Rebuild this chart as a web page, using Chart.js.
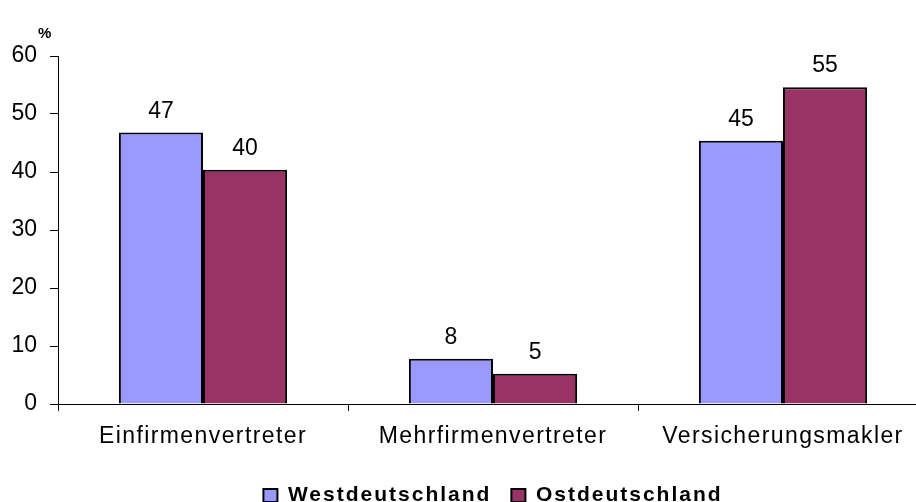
<!DOCTYPE html>
<html>
<head>
<meta charset="utf-8">
<script src="https://cdn.jsdelivr.net/npm/chart.js@4.4.1/dist/chart.umd.min.js"></script>
<style>
  html, body { margin: 0; padding: 0; background: #fff; overflow: hidden; }
  #wrap { width: 916px; height: 502px; overflow: hidden; }
</style>
</head>
<body>
<div id="wrap"><canvas id="chart" width="928" height="502"></canvas></div>
<script>
const categories = ['Einfirmenvertreter', 'Mehrfirmenvertreter', 'Versicherungsmakler'];
const seriesNames = ['Westdeutschland', 'Ostdeutschland'];
const westValues = [46.8, 7.8, 45.4];
const ostValues = [40.4, 5.2, 54.6];
const yMin = 0, yMax = 60, yStep = 10;
const unitLabel = '%';

const FONT = "'Liberation Sans', Arial, sans-serif";

// letter-spaced text, the original has wide tracking on the words
function withSpacing(fn, spacing) {
  return function () {
    const ctx = this.ctx;
    const old = ctx.letterSpacing;
    ctx.letterSpacing = spacing;
    const r = fn.apply(this, arguments);
    ctx.letterSpacing = old || '0px';
    return r;
  };
}
Chart.CategoryScale.prototype.drawLabels = withSpacing(Chart.CategoryScale.prototype.drawLabels, '1.4px');
if (Chart.Legend && Chart.Legend._element) {
  const L = Chart.Legend._element.prototype;
  L.fit = withSpacing(L.fit, '2px');
  L.draw = withSpacing(L.draw, '2px');
}

// value labels above the bars
const valueLabels = {
  id: 'valueLabels',
  afterDatasetsDraw(chart) {
    const ctx = chart.ctx;
    ctx.save();
    ctx.font = '23px ' + FONT;
    ctx.fillStyle = '#000';
    ctx.textAlign = 'center';
    ctx.textBaseline = 'alphabetic';
    chart.data.datasets.forEach((ds, i) => {
      chart.getDatasetMeta(i).data.forEach((bar, j) => {
        ctx.fillText(String(Math.round(ds.data[j])), bar.x, bar.y - 15);
      });
    });
    ctx.restore();
  }
};

// "%" above the value axis
const unitTitle = {
  id: 'unitTitle',
  afterDraw(chart) {
    const ctx = chart.ctx;
    ctx.save();
    ctx.font = 'bold 15px ' + FONT;
    ctx.fillStyle = '#000';
    ctx.textAlign = 'left';
    ctx.fillText(unitLabel, 38, 34);
    ctx.restore();
  }
};

new Chart(document.getElementById('chart').getContext('2d'), {
  type: 'bar',
  data: {
    labels: categories,
    datasets: [
      {
        label: seriesNames[0],
        data: westValues,
        backgroundColor: '#9999FF',
        borderColor: '#000',
        borderWidth: 2,
        borderSkipped: 'bottom'
      },
      {
        label: seriesNames[1],
        data: ostValues,
        backgroundColor: '#993366',
        borderColor: '#000',
        borderWidth: 2,
        borderSkipped: 'bottom'
      }
    ]
  },
  options: {
    responsive: false,
    animation: false,
    events: [],
    layout: { padding: { top: 56, right: 0, left: 0, bottom: -14 } },
    datasets: {
      bar: { categoryPercentage: 0.58, barPercentage: 1.0 }
    },
    plugins: {
      tooltip: { enabled: false },
      legend: {
        position: 'bottom',
        fullSize: false,
        labels: {
          color: '#000',
          font: { family: FONT, size: 21, weight: 'bold' },
          boxWidth: 14,
          boxHeight: 13,
          padding: 20
        }
      }
    },
    scales: {
      x: {
        grid: {
          display: true,
          drawOnChartArea: false,
          drawTicks: true,
          tickLength: 7,
          color: '#000'
        },
        border: { display: true, color: '#000', width: 1 },
        ticks: {
          color: '#000',
          font: { family: FONT, size: 23 },
          padding: 12,
          maxRotation: 0
        },
        afterFit(scale) { scale.height = 61; }
      },
      y: {
        min: yMin,
        max: yMax,
        grid: {
          display: true,
          drawOnChartArea: false,
          drawTicks: true,
          tickLength: 8,
          color: '#000'
        },
        border: { display: true, color: '#000', width: 1 },
        ticks: {
          stepSize: yStep,
          color: '#000',
          font: { family: FONT, size: 23 },
          padding: 13
        },
        afterFit(scale) { scale.width = 58; }
      }
    }
  },
  plugins: [valueLabels, unitTitle]
});
</script>
</body>
</html>
